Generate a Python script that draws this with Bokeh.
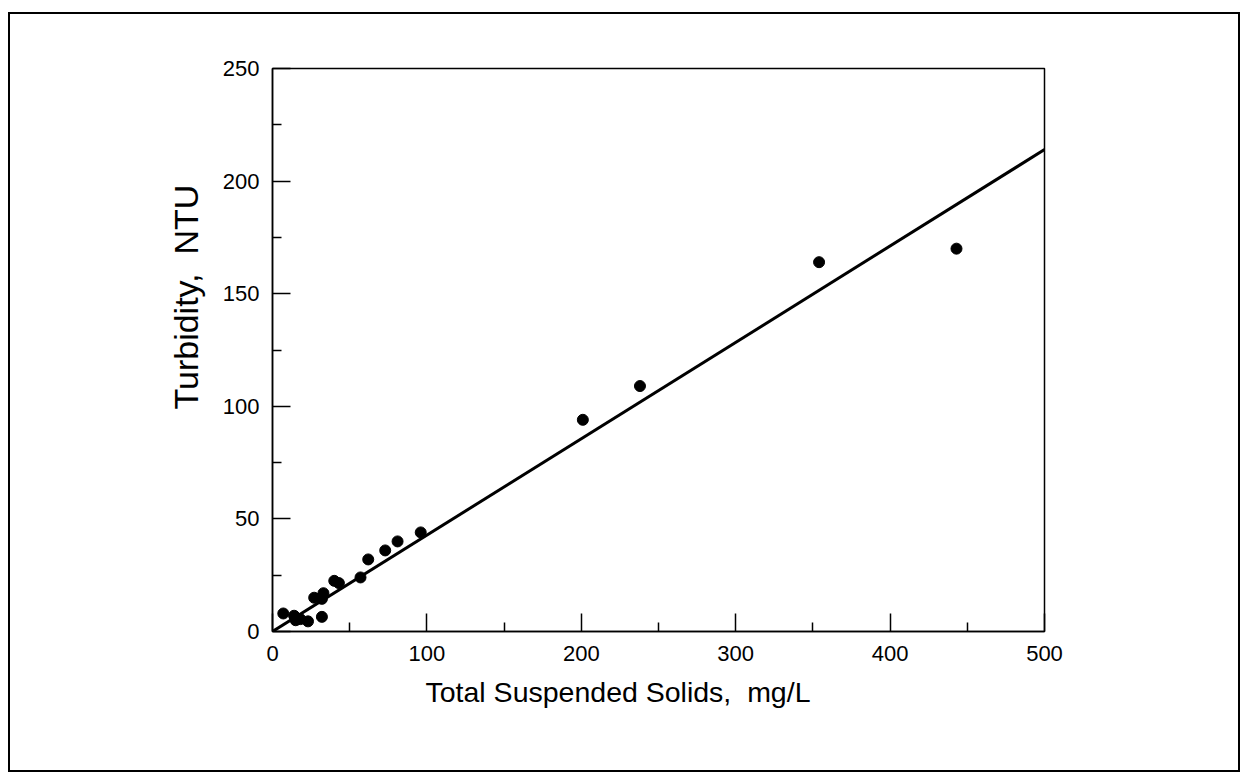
from bokeh.plotting import figure
from bokeh.models import Range1d, FixedTicker, Title, ColumnDataSource
from bokeh.embed import file_html
from bokeh.resources import INLINE

# Data
tss = [7, 14, 15, 18, 23, 32, 27, 33, 32, 40, 43, 57, 62, 73, 81, 96, 201, 238, 354, 443]
turbidity = [8, 7, 5, 5.5, 4.5, 6.5, 15, 17, 14.5, 22.5, 21.5, 24, 32, 36, 40, 44, 94, 109, 164, 170]
fit_x = [0, 500]
fit_y = [0, 214]
x_ticks = [0, 100, 200, 300, 400, 500]
y_ticks = [0, 50, 100, 150, 200, 250]
x_label = "Total Suspended Solids,\u00a0\u00a0mg/L"
y_label = "Turbidity,\u00a0\u00a0NTU"

FONT = "Liberation Sans"

p = figure(
    frame_width=772, frame_height=563,
    min_border_left=262, min_border_right=194, min_border_top=54, min_border_bottom=139,
    x_range=Range1d(0, 500), y_range=Range1d(0, 250),
    output_backend="svg", toolbar_location=None,
)
p.styles = {"border": "2px solid black", "margin-left": "8px", "margin-top": "12px"}
p.grid.visible = False
p.outline_line_color = "black"
p.outline_line_width = 1.5
p.outline_line_alpha = 1

for ax, ticks in ((p.xaxis[0], x_ticks), (p.yaxis[0], y_ticks)):
    step = ticks[1] - ticks[0]
    ax.ticker = FixedTicker(ticks=ticks,
                            minor_ticks=[t + step / 2 for t in ticks[:-1]])
    ax.major_tick_in = 18
    ax.major_tick_out = 0
    ax.minor_tick_in = 9
    ax.minor_tick_out = 0
    ax.major_tick_line_color = "black"
    ax.minor_tick_line_color = "black"
    ax.major_tick_line_width = 1.5
    ax.minor_tick_line_width = 1.5
    ax.axis_line_color = "black"
    ax.axis_line_width = 1.5
    ax.major_label_text_font = FONT
    ax.major_label_text_font_size = "22px"
    ax.major_label_text_color = "black"

p.xaxis.major_label_standoff = 14
p.yaxis.major_label_standoff = 13

src = ColumnDataSource(dict(x=tss, y=turbidity))
p.line(fit_x, fit_y, line_color="black", line_width=3)
p.scatter("x", "y", source=src, size=11, fill_color="black", line_color="black")

p.add_layout(Title(text=x_label, align="left", offset=153, standoff=20,
                   text_font=FONT, text_font_size="28.5px", text_font_style="normal",
                   text_color="black"), "below")
p.add_layout(Title(text=y_label, align="left", offset=222, standoff=29,
                   text_font=FONT, text_font_size="34px", text_font_style="normal",
                   text_color="black"), "left")

open("out.html", "w").write(file_html(p, INLINE))
